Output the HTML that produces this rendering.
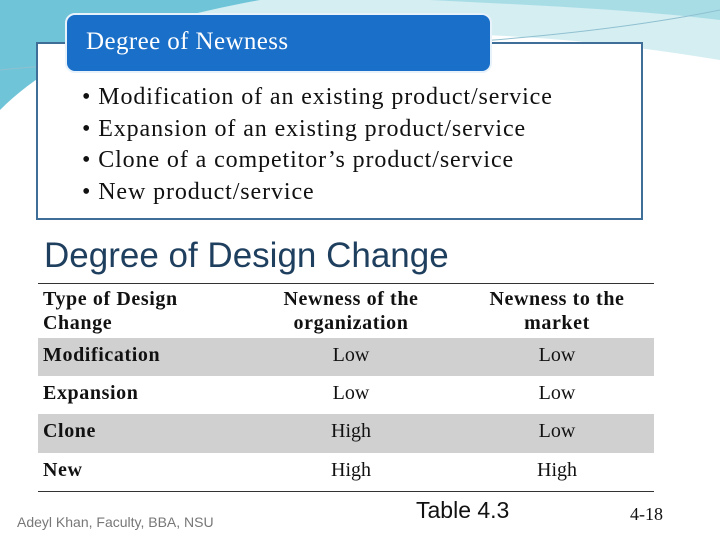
<!DOCTYPE html>
<html><head><meta charset="utf-8"><style>
body{margin:0;width:720px;height:540px;position:relative;overflow:hidden;background:#fff;font-family:"Liberation Serif",serif}
.a{position:absolute;white-space:nowrap}
.b{font-size:24px;letter-spacing:0.9px;color:#111;line-height:26px}
.r{position:absolute;left:38px;width:616px}
.c{position:absolute;font-size:20px;line-height:24px;color:#111}
.bold{font-weight:bold;letter-spacing:0.6px}
.ctr{transform:translateX(-50%);text-align:center}
</style></head><body>
<svg class="a" style="left:0;top:0" width="720" height="130">
<path d="M0 0 H720 V60 C600 40 480 30 360 35 C200 42 80 60 0 80 Z" fill="#d4eef2"/>
<path d="M0 0 H260 C150 20 60 50 0 110 Z" fill="#6fc4d8"/>
<path d="M430 0 H720 V20 C640 10 530 5 430 0 Z" fill="#a8dde6"/>
<path d="M0 70 C200 50 500 55 720 10" stroke="#8fc0d0" stroke-width="1" fill="none"/>
</svg>
<div class="a" style="left:36px;top:42px;width:603px;height:174px;border:2px solid #3f6f98;background:#fff"></div>
<div class="a" style="left:65px;top:13px;width:423px;height:56px;background:#1a6fc9;border:2px solid #e8f2fb;border-radius:10px"></div>
<div class="a" style="left:86px;top:28px;font-size:25px;letter-spacing:0.4px;color:#fff;line-height:28px">Degree of Newness</div>
<div class="a b" style="left:82px;top:84px">•&nbsp;Modification of an existing product/service</div>
<div class="a b" style="left:82px;top:116px">•&nbsp;Expansion of an existing product/service</div>
<div class="a b" style="left:82px;top:147px">•&nbsp;Clone of a competitor’s product/service</div>
<div class="a b" style="left:82px;top:179px">•&nbsp;New product/service</div>
<div class="a" style="left:44px;top:236px;font-family:'Liberation Sans',sans-serif;font-size:35px;line-height:40px;color:#1f3f5f">Degree of Design Change</div>
<div class="r" style="top:283px;height:1px;background:#333"></div>
<div class="r" style="top:338px;height:38px;background:#d0d0d0"></div>
<div class="r" style="top:414px;height:39px;background:#d0d0d0"></div>
<div class="r" style="top:491px;height:1px;background:#333"></div>
<div class="c bold" style="left:43px;top:287px">Type of Design<br>Change</div>
<div class="c bold ctr" style="left:351px;top:287px">Newness of the<br>organization</div>
<div class="c bold ctr" style="left:557px;top:287px">Newness to the<br>market</div>
<div class="c bold" style="left:43px;top:343px">Modification</div>
<div class="c ctr" style="left:351px;top:343px">Low</div>
<div class="c ctr" style="left:557px;top:343px">Low</div>
<div class="c bold" style="left:43px;top:381px">Expansion</div>
<div class="c ctr" style="left:351px;top:381px">Low</div>
<div class="c ctr" style="left:557px;top:381px">Low</div>
<div class="c bold" style="left:43px;top:419px">Clone</div>
<div class="c ctr" style="left:351px;top:419px">High</div>
<div class="c ctr" style="left:557px;top:419px">Low</div>
<div class="c bold" style="left:43px;top:458px">New</div>
<div class="c ctr" style="left:351px;top:458px">High</div>
<div class="c ctr" style="left:557px;top:458px">High</div>
<div class="a" style="left:17px;top:514px;font-family:'Liberation Sans',sans-serif;font-size:14px;color:#777">Adeyl Khan, Faculty, BBA, NSU</div>
<div class="a" style="left:416px;top:497px;font-family:'Liberation Sans',sans-serif;font-size:23px;color:#111">Table 4.3</div>
<div class="a" style="left:630px;top:504px;font-size:18px;color:#111">4-18</div>
</body></html>
